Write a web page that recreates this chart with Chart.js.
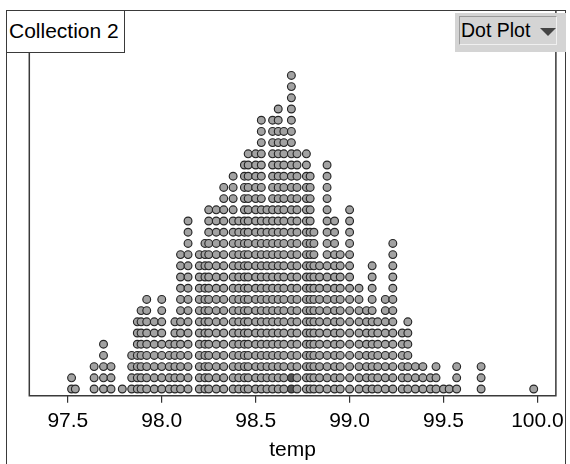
<!DOCTYPE html>
<html><head><meta charset="utf-8">
<script src="https://cdn.jsdelivr.net/npm/chart.js@4.4.1/dist/chart.umd.min.js"></script>
<style>
html,body{margin:0;padding:0;background:#fff;overflow:hidden}
#wrap{position:relative;width:570px;height:464px;overflow:hidden}
#outer{position:absolute;left:6px;top:10px;width:560px;height:470px;border:1.5px solid #3a3a3a;box-sizing:border-box}
canvas{position:absolute;left:0;top:0}
#coll{position:absolute;left:6px;top:10px;width:119px;height:43px;border:1.5px solid #3a3a3a;background:#fff;box-sizing:border-box;font:21px "Liberation Sans",Arial,sans-serif;line-height:40px;padding-left:2px;color:#000;white-space:nowrap}
#btn{position:absolute;left:455px;top:13px;width:111px;height:39px;background:#d4d4d4}
#btnin{position:absolute;left:4px;top:3px;width:98px;height:29px;box-sizing:border-box;border:1px solid #9a9a9a;border-right-color:#f0f0f0;border-bottom-color:#f0f0f0;font:19.5px "Liberation Sans",Arial,sans-serif;line-height:27px;padding-left:1px;color:#000;white-space:nowrap}
#arrow{position:absolute;left:80px;top:11px;width:0;height:0;border-left:8px solid transparent;border-right:8px solid transparent;border-top:8px solid #444}
</style></head>
<body>
<div id="wrap">
<div id="outer"></div>
<canvas id="c" width="570" height="464"></canvas>
<div id="coll"></div>
<div id="btn"><div id="btnin"><span id="btnText"></span><div id="arrow"></div></div></div>
</div>
<script>
// Data: bin value and number of stacked dots
const temps = [97.52, 97.54, 97.64, 97.69, 97.73, 97.79, 97.84, 97.87, 97.89, 97.92,
  97.96, 98.00, 98.04, 98.07, 98.10, 98.14, 98.20, 98.23, 98.25, 98.29,
  98.33, 98.38, 98.41, 98.44, 98.46, 98.50, 98.53, 98.56, 98.59, 98.62,
  98.65, 98.69, 98.72, 98.77, 98.79, 98.81, 98.84, 98.88, 98.92, 98.95,
  99.00, 99.05, 99.09, 99.12, 99.15, 99.19, 99.23, 99.28, 99.31, 99.35,
  99.39, 99.43, 99.46, 99.50, 99.53, 99.57, 99.70, 99.98];
const counts = [2, 1, 3, 5, 3, 1, 4, 7, 8, 9,
  7, 9, 5, 7, 13, 16, 13, 14, 17, 17,
  19, 20, 16, 21, 22, 22, 25, 17, 25, 26,
  24, 29, 22, 22, 20, 15, 12, 21, 16, 13,
  17, 10, 8, 12, 7, 9, 14, 6, 7, 3,
  3, 2, 3, 1, 1, 3, 3, 1];
const tickValues = [97.5, 98.0, 98.5, 99.0, 99.5, 100.0];
const axisTitle = 'temp';
const collectionName = 'Collection 2';
const plotType = 'Dot Plot';
const highlightTemp = 98.69;
const highlightLevels = 2;

document.getElementById('coll').textContent = collectionName;
document.getElementById('btnText').textContent = plotType;

const points = [];
temps.forEach((t, i) => {
  for (let k = 0; k < counts[i]; k++) points.push({x: t, y: k});
});

const framePlugin = {
  id: 'frame',
  afterDraw(chart) {
    const {ctx, chartArea: a} = chart;
    ctx.save();
    ctx.strokeStyle = '#3a3a3a';
    ctx.lineWidth = 1.5;
    ctx.beginPath();
    ctx.moveTo(a.left, a.top);
    ctx.lineTo(a.left, a.bottom);
    ctx.lineTo(a.right, a.bottom);
    ctx.lineTo(a.right, a.top);
    ctx.stroke();
    ctx.restore();
  }
};

const FONT = 'Liberation Sans, Arial, sans-serif';
new Chart(document.getElementById('c'), {
  type: 'scatter',
  data: {datasets: [{
    data: points,
    pointRadius: 3.9,
    pointHoverRadius: 3.9,
    pointBorderWidth: 1.15,
    pointBorderColor: '#262626',
    pointBackgroundColor: c => (c.raw && c.raw.x === highlightTemp && c.raw.y < highlightLevels) ? '#555555' : '#a2a2a2'
  }]},
  options: {
    responsive: false,
    animation: false,
    events: [],
    layout: {padding: {left: 29.3, right: 7.3, top: 11, bottom: 0}},
    plugins: {legend: {display: false}, tooltip: {enabled: false}},
    scales: {
      x: {
        type: 'linear', min: 97.295, max: 100.098,
        afterBuildTicks: a => { a.ticks = tickValues.map(v => ({value: v})); },
        afterFit: s => { s.height = 68.3; },
        border: {display: false},
        grid: {drawOnChartArea: false, drawTicks: true, tickLength: 7, color: '#333', lineWidth: 1.2},
        ticks: {font: {family: FONT, size: 21}, color: '#000', padding: 6, maxRotation: 0, autoSkip: false,
          callback: v => Number(v).toFixed(1)},
        title: {display: true, text: axisTitle, color: '#000', font: {family: FONT, size: 21}, padding: {top: 0, bottom: 1}}
      },
      y: {display: false, min: -0.598, max: 33.75}
    }
  },
  plugins: [framePlugin]
});
</script>
</body></html>
